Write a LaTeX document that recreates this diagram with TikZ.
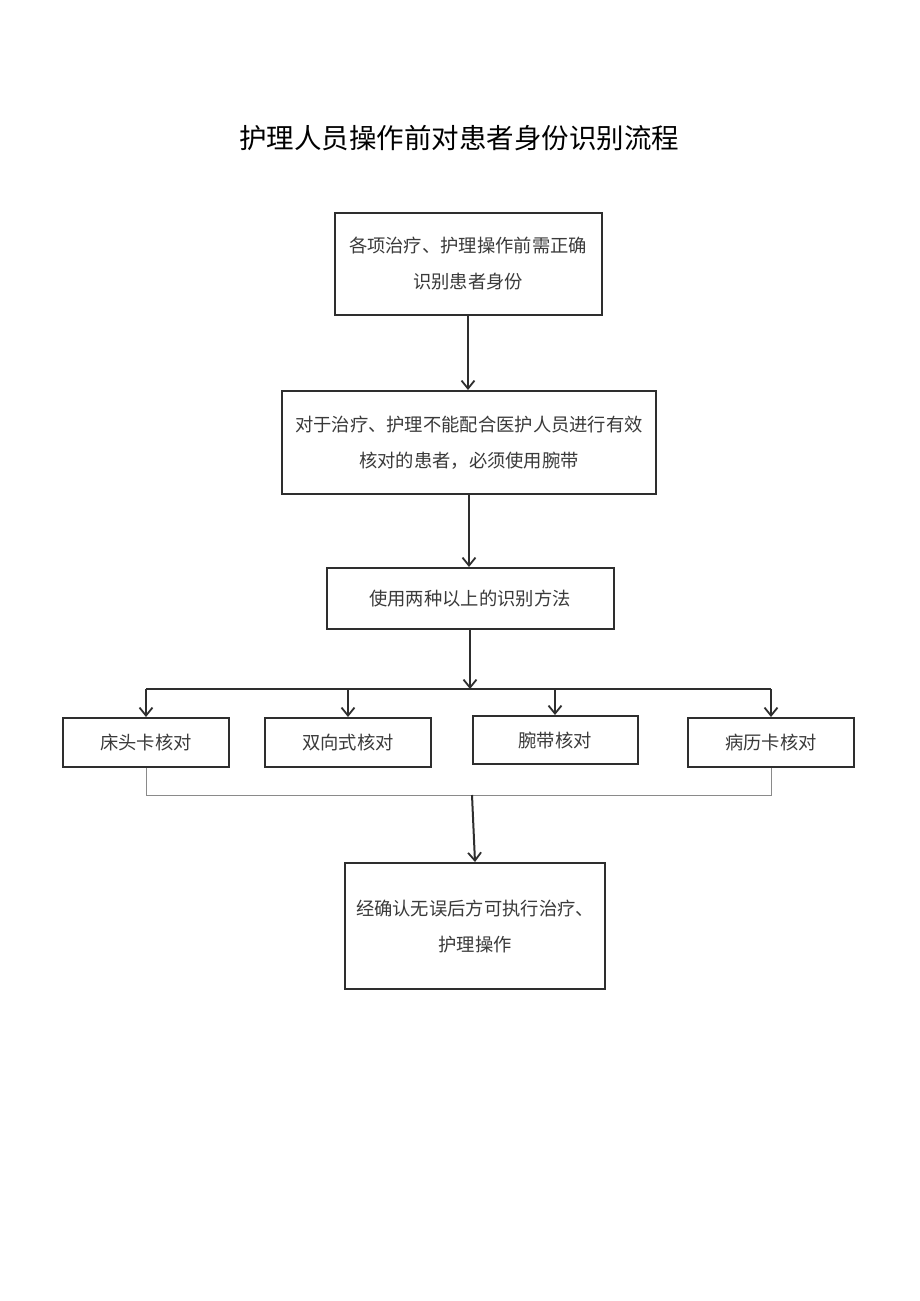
\documentclass[tikz,border=0pt]{standalone}
\usepackage{fontspec}
\setmainfont{Noto Sans CJK SC}
\usetikzlibrary{arrows.meta}
\definecolor{ink}{HTML}{2E2E2E}
\definecolor{txt}{HTML}{3A3A3A}
\definecolor{thin}{HTML}{8A8A8A}
\tikzset{
  box/.style={draw=ink, line width=2pt, fill=white, inner sep=0pt, text=txt, align=center,
    font=\fontsize{18.3pt}{36pt}\selectfont},
  arr/.style={draw=ink, line width=2pt, -{Straight Barb[length=8pt,width=13pt,line width=1.8pt]}},
  conn/.style={draw=ink, line width=2pt},
  gline/.style={draw=thin, line width=1pt}
}
\begin{document}
\begin{tikzpicture}[x=1pt,y=-1pt]
\useasboundingbox[fill=white] (0,0) rectangle (920,1301);
\node[text=black, font=\fontsize{27.5pt}{30pt}\selectfont] (title) at (459,138) {护理人员操作前对患者身份识别流程};

\node[box, minimum width=267pt, minimum height=102pt] (b1) at (468,264) {各项治疗、护理操作前需正确\\识别患者身份};
\node[box, minimum width=374pt, minimum height=103pt] (b2) at (469,442.5) {对于治疗、护理不能配合医护人员进行有效\\核对的患者，必须使用腕带};
\node[box, minimum width=287pt, minimum height=61pt] (b3) at (470,598.5) {使用两种以上的识别方法};

\node[box, minimum width=166pt, minimum height=49pt] (c1) at (146,742.5) {床头卡核对};
\node[box, minimum width=166pt, minimum height=49pt] (c2) at (348,742.5) {双向式核对};
\node[box, minimum width=165pt, minimum height=48pt] (c3) at (555,740) {腕带核对};
\node[box, minimum width=166pt, minimum height=49pt] (c4) at (771,742.5) {病历卡核对};

\node[box, minimum width=260pt, minimum height=126pt] (b5) at (475,926) {经确认无误后方可执行治疗、\\护理操作};

\coordinate (j1) at (470,689);
\coordinate (hl) at (146,689);
\coordinate (hr) at (771,689);
\coordinate (j2) at (472,795);

\draw[arr] (b1.south) -- (b1.south |- b2.north);
\draw[arr] (b2.south) -- (b2.south |- b3.north);
\draw[arr] (b3.south) -- (j1);
\draw[conn] (hl) -- (hr);
\draw[arr] (hl) -- (c1.north);
\draw[arr] (c2.north |- hl) -- (c2.north);
\draw[arr] (c3.north |- hl) -- (c3.north);
\draw[arr] (hr) -- (c4.north);
\draw[gline] (c1.south) -- (c1.south |- j2) -| (c4.south);
\draw[arr] (j2) -- (b5.north);
\end{tikzpicture}
\end{document}
